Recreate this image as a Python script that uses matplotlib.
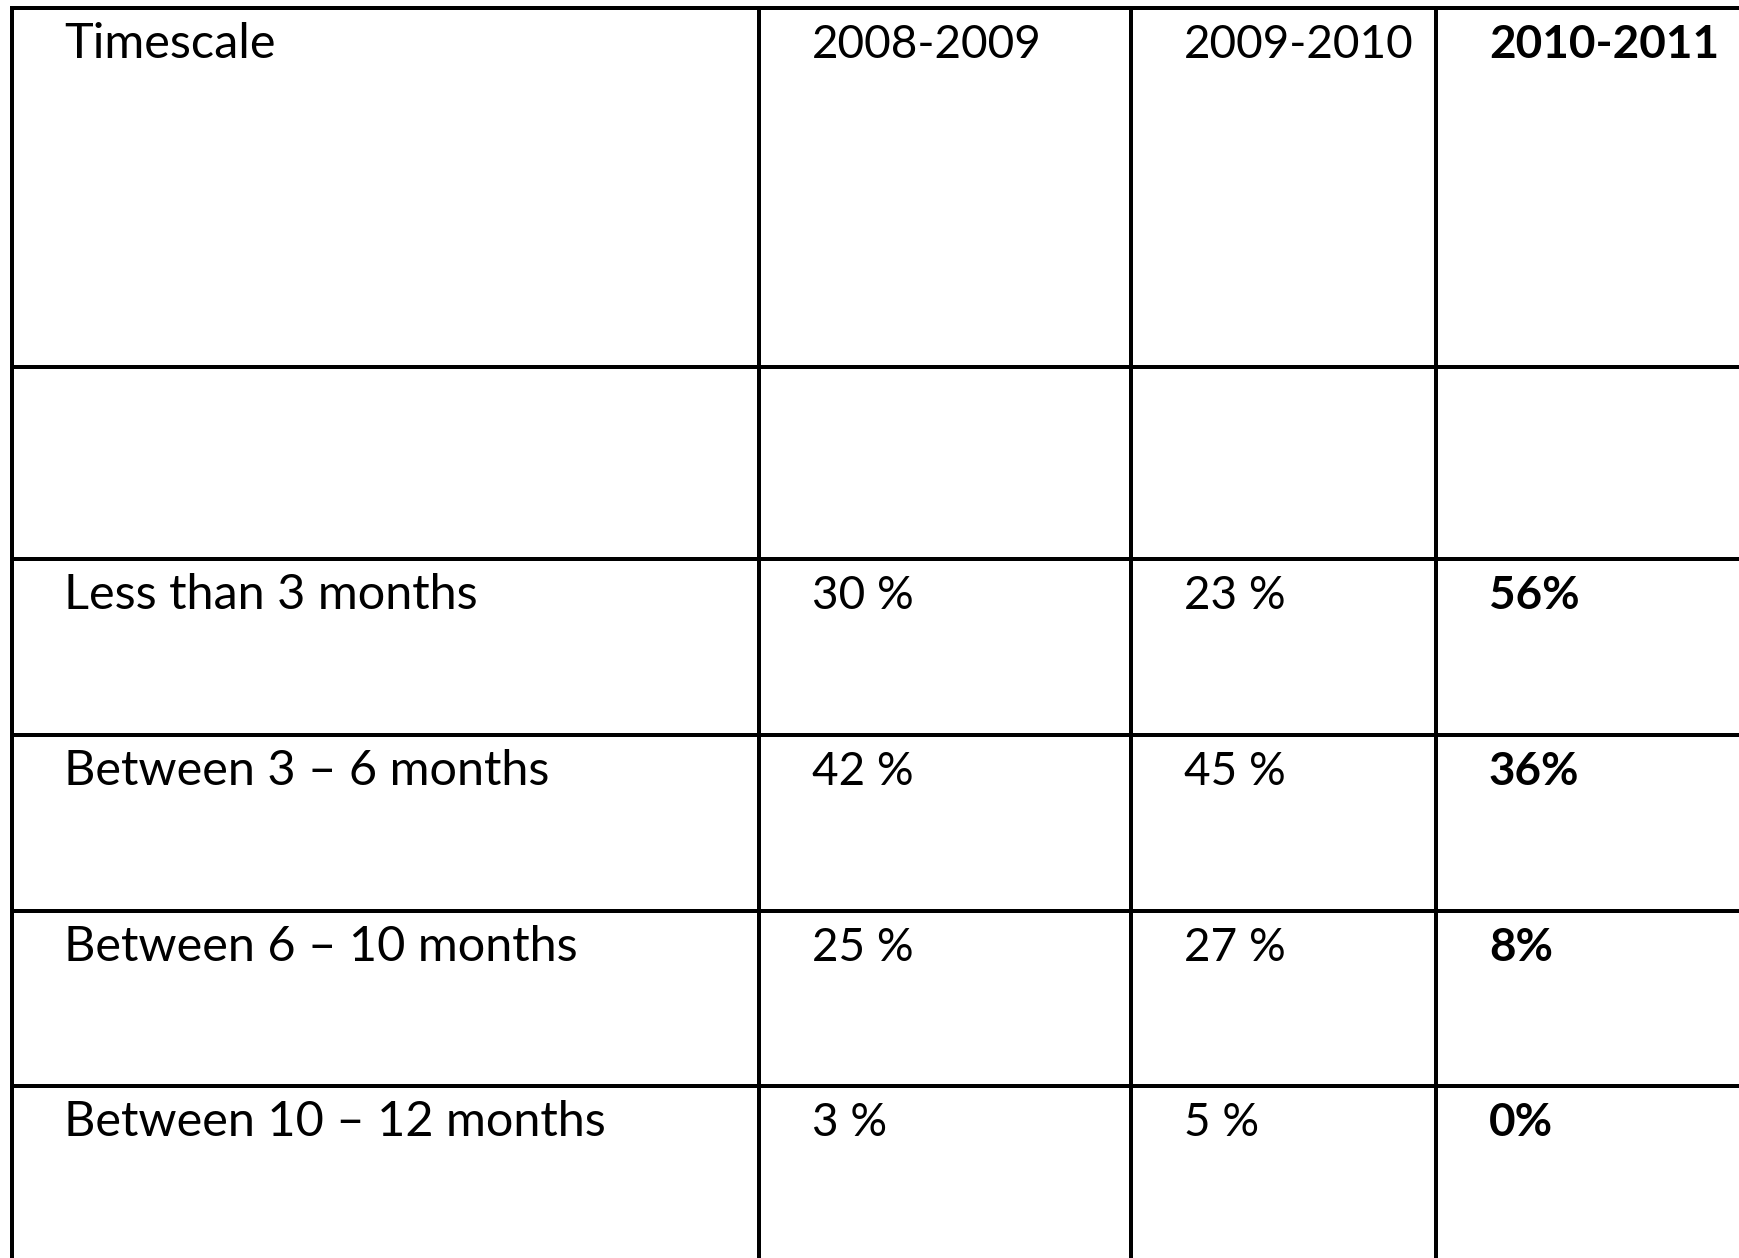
import matplotlib
matplotlib.use("Agg")
import matplotlib.pyplot as plt

# ---- data ----
header = ["Timescale", "2008-2009", "2009-2010", "2010-2011"]
categories = ["Less than 3 months", "Between 3 \u2013 6 months",
              "Between 6 \u2013 10 months", "Between 10 \u2013 12 months"]
values_2008_2009 = [30, 42, 25, 3]
values_2009_2010 = [23, 45, 27, 5]
values_2010_2011 = [56, 36, 8, 0]

# ---- layout (pixels) ----
W, H = 1739, 1258
col_lines = [12, 758.5, 1131, 1436]
row_lines = [7.5, 367, 559, 735, 911, 1086]
text_x = [64, 812, 1184, 1489]
baseline_off = 50
lw = 4 * 72 / 100
fs_num = 33
fs_txt = 35

plt.rcParams['font.family'] = ['Lato', 'DejaVu Sans']
fig = plt.figure(figsize=(W / 100, H / 100), dpi=100)
ax = fig.add_axes([0, 0, 1, 1])
ax.set_xlim(0, W)
ax.set_ylim(H, 0)
ax.axis('off')

for y in row_lines:
    ax.plot([col_lines[0] - 2, W], [y, y], color='black', lw=lw, solid_capstyle='butt')
for x in col_lines:
    ax.plot([x, x], [row_lines[0] - 2, H], color='black', lw=lw, solid_capstyle='butt')

def put(ci, row_top, s, bold=False):
    ax.text(text_x[ci], row_top + baseline_off, s,
            fontsize=fs_txt if ci == 0 else fs_num,
            fontweight='bold' if bold else 'normal',
            ha='left', va='baseline', color='black')

for ci, h in enumerate(header):
    put(ci, row_lines[0], h, bold=(ci == 3))

for ri, cat in enumerate(categories):
    top = row_lines[ri + 2]
    put(0, top, cat)
    put(1, top, f"{values_2008_2009[ri]} %")
    put(2, top, f"{values_2009_2010[ri]} %")
    put(3, top, f"{values_2010_2011[ri]}%", bold=True)

fig.savefig("out.png", dpi=100, facecolor='white')
